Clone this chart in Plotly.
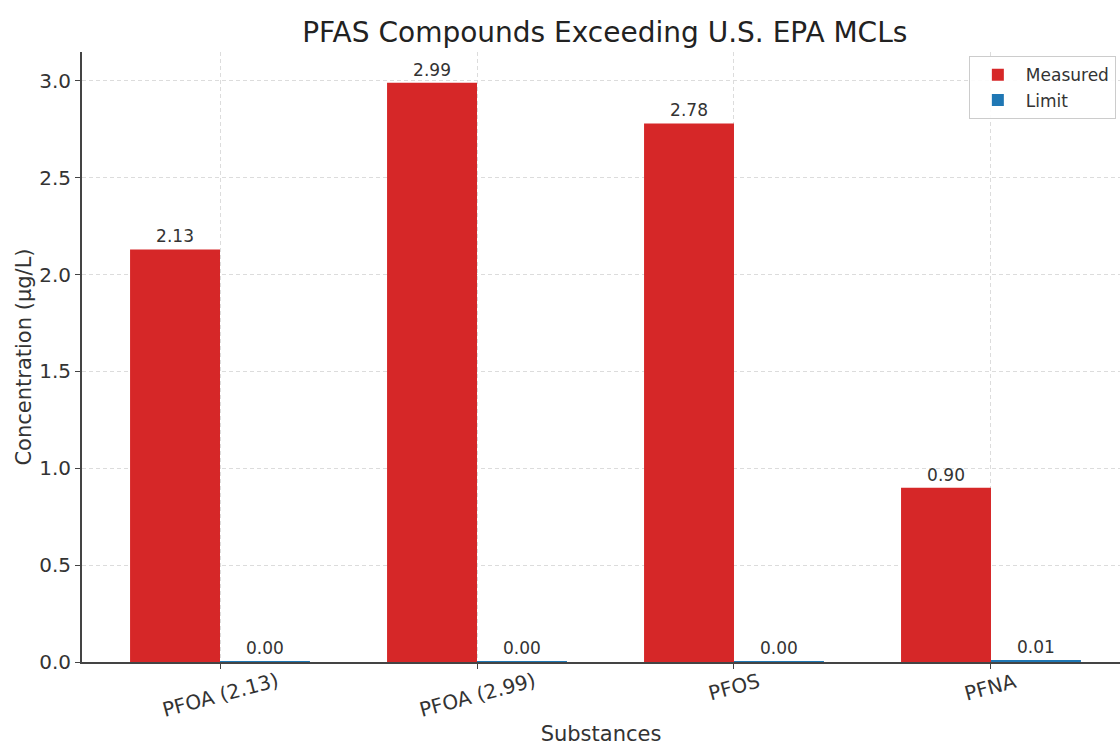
import plotly.graph_objects as go

categories = ["PFOA (2.13)", "PFOA (2.99)", "PFOS", "PFNA"]
measured = [2.13, 2.99, 2.78, 0.90]
limit = [0.004, 0.004, 0.004, 0.01]
y_ticks = [0.0, 0.5, 1.0, 1.5, 2.0, 2.5, 3.0]

FONT = "DejaVu Sans"
TXT = "#333333"
GRID = "#dcdcdc"
AXIS = "#444444"

fig = go.Figure()
fig.add_trace(go.Bar(
    x=categories, y=measured, name="Measured",
    marker=dict(color="#d62728", line=dict(width=0)),
    texttemplate="%{y:.2f}", textposition="outside",
    textfont=dict(family=FONT, size=17, color=TXT),
    cliponaxis=False,
))
fig.add_trace(go.Bar(
    x=categories, y=limit, name="Limit",
    marker=dict(color="#1f77b4", line=dict(width=0)),
    texttemplate="%{y:.2f}", textposition="outside",
    textfont=dict(family=FONT, size=17, color=TXT),
    cliponaxis=False,
))

# rotated category labels centred under each group (matplotlib style)
annotations = [
    dict(x=c, y=0, xref="x", yref="y", text=c, showarrow=False,
         textangle=-15, xanchor="center", yanchor="top", yshift=-4,
         font=dict(family=FONT, size=20, color=TXT))
    for c in categories
]

fig.update_layout(
    width=1120, height=746,
    margin=dict(l=82, r=0, t=52, b=84),
    paper_bgcolor="white", plot_bgcolor="white",
    barmode="group", bargap=0.3, bargroupgap=0,
    font=dict(family=FONT, color=TXT),
    title=dict(text="PFAS Compounds Exceeding U.S. EPA MCLs",
               x=0.54, xanchor="center", y=0.957, yanchor="middle",
               font=dict(family=FONT, size=28, color="#222222")),
    legend=dict(x=0.996, xanchor="right", y=0.993, yanchor="top",
                bgcolor="rgba(255,255,255,0.9)", bordercolor="#cccccc", borderwidth=1,
                font=dict(family=FONT, size=17, color=TXT),
                itemwidth=46, tracegroupgap=0),
    annotations=annotations,
    xaxis=dict(
        range=[-0.537, 3.502],
        showticklabels=False,
        title=dict(text="Substances", font=dict(family=FONT, size=21, color=TXT), standoff=65),
        showline=True, linecolor=AXIS, linewidth=2,
        showgrid=True, gridcolor=GRID, griddash="4px,3px", gridwidth=1,
        ticks="outside", ticklen=5, tickcolor=AXIS,
        zeroline=False,
    ),
    yaxis=dict(
        range=[0, 3.149],
        tickvals=y_ticks, ticktext=[f"{v:.1f}" for v in y_ticks],
        title=dict(text="Concentration (µg/L)", font=dict(family=FONT, size=21, color=TXT), standoff=2),
        tickfont=dict(family=FONT, size=20, color=TXT),
        showline=True, linecolor=AXIS, linewidth=2,
        showgrid=True, gridcolor=GRID, griddash="4px,3px", gridwidth=1,
        ticks="outside", ticklen=5, tickcolor=AXIS,
        zeroline=False,
    ),
)

fig.write_html("out.html", config={"displayModeBar": False},
               post_script="document.body.style.margin='0';")
